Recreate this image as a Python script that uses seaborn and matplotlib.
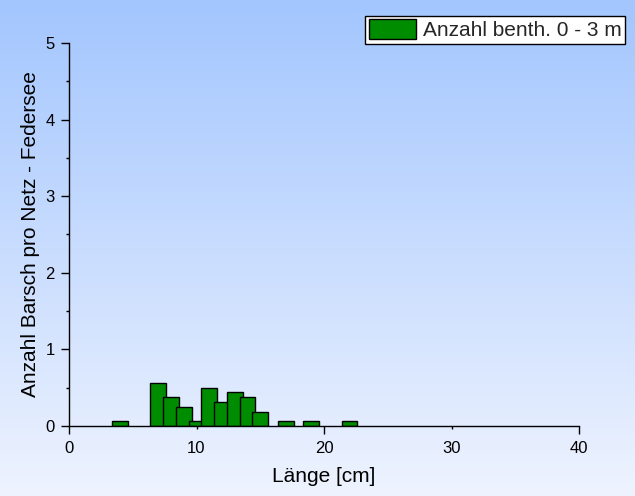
import matplotlib

matplotlib.use("Agg")
import matplotlib.pyplot as plt
import numpy as np
import seaborn as sns
from matplotlib.ticker import FixedLocator, MultipleLocator, StrMethodFormatter

# Barsch (perch) per net, Federsee, benthic 0-3 m
laenge_cm = [4, 7, 8, 9, 10, 11, 12, 13, 14, 15, 17, 19, 22]
anzahl = [0.0625, 0.5625, 0.375, 0.25, 0.0625, 0.5, 0.3125, 0.4375, 0.375, 0.1875, 0.0625, 0.0625, 0.0625]
serie = "Anzahl benth. 0 - 3 m"
x_major = [0, 20, 40]
x_minor = [10, 30]

sns.set_style("ticks")
plt.rcParams["font.family"] = ["Liberation Sans", "DejaVu Sans"]

fig = plt.figure(figsize=(6.35, 4.96), dpi=100)

# vertical blue -> white background gradient over the whole figure
bg = fig.add_axes([0, 0, 1, 1], zorder=0)
t = np.linspace(0, 1, 256)[:, None, None]
top = np.array([163, 198, 255]) / 255
bottom = np.array([238, 243, 254]) / 255
img = top * (1 - t) + bottom * t
bg.imshow(img, aspect="auto", extent=[0, 1, 0, 1])
bg.axis("off")

ax = fig.add_axes([69 / 635, 1 - 426 / 496, 510 / 635, 383 / 496], zorder=1)
ax.patch.set_alpha(0)

sns.barplot(
    x=laenge_cm,
    y=anzahl,
    native_scale=True,
    width=1.25,
    color="#008C00",
    saturation=1,
    edgecolor="black",
    linewidth=1,
    errorbar=None,
    label=serie,
    ax=ax,
)

ax.set_xlim(0, 40)
ax.set_ylim(0, 5)
ax.xaxis.set_major_locator(FixedLocator(x_major))
ax.xaxis.set_minor_locator(FixedLocator(x_minor))
ax.xaxis.set_major_formatter(StrMethodFormatter("{x:g}"))
ax.xaxis.set_minor_formatter(StrMethodFormatter("{x:g}"))
ax.yaxis.set_major_locator(MultipleLocator(1))
ax.yaxis.set_minor_locator(MultipleLocator(0.5))

ax.tick_params(which="both", direction="out", color="black", width=1, labelsize=12, labelcolor="black")
ax.tick_params(axis="x", which="major", length=5.5, pad=5.5)
ax.tick_params(axis="x", which="minor", length=2.2, pad=8.8)
ax.tick_params(axis="y", which="major", length=5.5, pad=4.6)
ax.tick_params(axis="y", which="minor", length=2.5)

for side in ["top", "right"]:
    ax.spines[side].set_visible(False)
for side in ["left", "bottom"]:
    ax.spines[side].set_color("black")
    ax.spines[side].set_linewidth(1)

ax.set_xlabel("Länge [cm]", fontsize=15, labelpad=8, color="black")
ax.set_ylabel("Anzahl Barsch pro Netz - Federsee", fontsize=15, labelpad=4, color="black")

leg = ax.legend(
    loc="upper right",
    bbox_to_anchor=(625 / 635, 1 - 15.7 / 496),
    bbox_transform=fig.transFigure,
    borderaxespad=0,
    fontsize=15,
    handlelength=2.26,
    handleheight=1.1,
    handletextpad=0.33,
    borderpad=0.17,
    fancybox=False,
    framealpha=1,
    edgecolor="black",
    facecolor="white",
)
leg.get_frame().set_linewidth(1)

fig.savefig("out.png", dpi=100)
plt.close()
